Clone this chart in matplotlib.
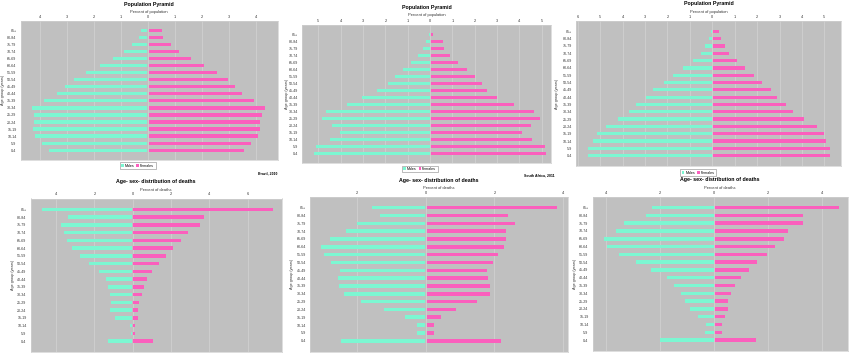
import matplotlib
matplotlib.use("Agg")
import matplotlib.pyplot as plt
from matplotlib.patches import Patch
import numpy as np

plt.rcParams['font.family'] = ['Liberation Sans', 'DejaVu Sans']

age_groups = ["0-4", "5-9", "10-14", "15-19", "20-24", "25-29", "30-34", "35-39",
              "40-44", "45-49", "50-54", "55-59", "60-64", "65-69", "70-74",
              "75-79", "80-84", "85+"]

# Population pyramids (percent of population), listed from 85+ down to 0-4
pop1_male = [0.25, 0.32, 0.58, 0.87, 1.28, 1.76, 2.28, 2.73, 3.05, 3.35, 3.83, 4.29, 4.23, 4.23, 4.24, 4.19, 3.90, 3.67]
pop1_female = [0.47, 0.52, 0.82, 1.12, 1.56, 2.03, 2.52, 2.94, 3.20, 3.44, 3.90, 4.31, 4.19, 4.13, 4.12, 4.03, 3.77, 3.52]
pop2_male = [0.05, 0.16, 0.30, 0.52, 0.85, 1.18, 1.57, 1.87, 2.37, 3.01, 3.72, 4.64, 4.82, 4.37, 3.99, 4.48, 5.07, 5.16]
pop2_female = [0.09, 0.52, 0.58, 0.85, 1.21, 1.60, 1.96, 2.28, 2.52, 2.94, 3.72, 4.63, 4.88, 4.46, 4.07, 4.52, 5.09, 5.16]
pop3_male = [0.03, 0.15, 0.30, 0.50, 0.86, 1.29, 1.74, 2.14, 2.64, 2.94, 3.39, 3.71, 4.19, 4.73, 5.13, 5.32, 5.51, 5.51]
pop3_female = [0.24, 0.33, 0.52, 0.70, 1.04, 1.43, 1.83, 2.18, 2.59, 2.84, 3.25, 3.55, 4.07, 4.62, 4.92, 5.02, 5.20, 5.20]

# Age-sex distribution of deaths (percent of deaths), from 85+ down to 0-4
dth1_male = [4.70, 3.36, 3.74, 3.57, 3.41, 3.17, 2.75, 2.28, 1.74, 1.39, 1.25, 1.15, 1.11, 1.18, 0.90, 0.10, 0.05, 1.27]
dth1_female = [7.27, 3.70, 3.48, 2.82, 2.47, 2.07, 1.70, 1.32, 0.94, 0.68, 0.57, 0.42, 0.28, 0.23, 0.21, 0.10, 0.09, 1.00]
dth2_male = [1.55, 1.31, 1.96, 2.29, 2.76, 3.02, 2.92, 2.74, 2.48, 2.54, 2.51, 2.35, 1.86, 1.20, 0.58, 0.23, 0.23, 2.43]
dth2_female = [3.77, 2.35, 2.56, 2.29, 2.29, 2.24, 2.05, 1.92, 1.75, 1.77, 1.83, 1.83, 1.45, 0.83, 0.41, 0.19, 0.19, 2.15]
dth3_male = [2.30, 2.50, 3.33, 3.62, 4.05, 3.95, 3.50, 2.88, 2.33, 1.74, 1.46, 1.20, 1.06, 0.88, 0.57, 0.30, 0.31, 1.98]
dth3_female = [4.56, 3.23, 3.26, 2.70, 2.54, 2.22, 1.91, 1.56, 1.25, 0.94, 0.74, 0.58, 0.47, 0.47, 0.35, 0.25, 0.26, 1.52]

MALE = '#7cf7d2'
FEMALE = '#fb5fbd'
BG = '#c0c0c0'

W, H = 850, 353
fig = plt.figure(figsize=(W / 100, H / 100), dpi=100)
fig.patch.set_facecolor('white')


def rect(x0, y0, x1, y1):
    return [x0 / W, 1 - y1 / H, (x1 - x0) / W, (y1 - y0) / H]


def panel(box, male, female, xlim, ticks, title, subtitle, title_y, sub_y,
          ylabel_x, legend_xy=None, note=None):
    ax = fig.add_axes(rect(*box))
    ax.set_facecolor(BG)
    n = len(male)
    ypos = np.arange(n)[::-1]  # first entry (85+) at top
    ax.barh(ypos, [-v for v in male], height=0.45, color=MALE, left=-0.02, zorder=3)
    ax.barh(ypos, female, height=0.45, color=FEMALE, left=0.04, zorder=3)
    ax.set_xlim(*xlim)
    ax.set_ylim(-1.4, n - 1 + 1.4)
    ax.set_xticks(ticks)
    ax.set_xticklabels([str(abs(t)) for t in ticks], fontsize=2.8, color='#333333')
    ax.xaxis.tick_top()
    ax.tick_params(axis='x', length=0, pad=1.5)
    ax.set_yticks(np.arange(n))
    ax.set_yticklabels(age_groups, fontsize=2.6, color='#333333')
    ax.tick_params(axis='y', length=0, pad=3)
    ax.grid(axis='x', color='#d4d4d4', linewidth=0.5, zorder=1)
    for s in ax.spines.values():
        s.set_color('#d0d0d0')
        s.set_linewidth(0.5)
    cx = (box[0] + box[2]) / 2
    fig.text(cx / W, 1 - title_y / H, title, ha='center', va='center',
             fontsize=3.8, fontweight='bold')
    fig.text(cx / W, 1 - sub_y / H, subtitle, ha='center', va='center',
             fontsize=2.9, color='#333333')
    fig.text(ylabel_x / W, 1 - ((box[1] + box[3]) / 2) / H, 'Age group (years)',
             rotation=90, ha='center', va='center', fontsize=2.7, color='#333333')
    if legend_xy is not None:
        handles = [Patch(facecolor=MALE, label='Males'),
                   Patch(facecolor=FEMALE, label='Females')]
        fig.legend(handles=handles, loc='center',
                   bbox_to_anchor=(legend_xy[0] / W, 1 - legend_xy[1] / H),
                   ncol=2, fontsize=2.6, frameon=True, fancybox=False,
                   edgecolor='#888888', handlelength=0.7, handleheight=0.7,
                   handletextpad=0.3, columnspacing=0.5, borderpad=0.4,
                   framealpha=1).get_frame().set_linewidth(0.4)
    if note is not None:
        fig.text(note[1] / W, 1 - note[2] / H, note[0], ha='right', va='center',
                 fontsize=2.5, fontweight='bold')
    return ax


panel((20.7, 20.7, 277.7, 160), pop1_male, pop1_female, (-4.73, 4.82),
      [-4, -3, -2, -1, 0, 1, 2, 3, 4], 'Population Pyramid', 'Percent of population',
      4.5, 11.5, 2.7, legend_xy=(137.7, 165.7), note=('Brazil, 2010', 277, 173))
panel((302.3, 25, 550.7, 163.3), pop2_male, pop2_female, (-5.72, 5.4),
      [-5, -4, -3, -2, -1, 0, 1, 2, 3, 4, 5], 'Population Pyramid', 'Percent of population',
      7, 15, 287, legend_xy=(419.8, 169), note=('South Africa, 2011', 555, 175))
panel((576, 21, 841, 166), pop3_male, pop3_female, (-6.08, 5.74),
      [-6, -5, -4, -3, -2, -1, 0, 1, 2, 3, 4, 5], 'Population Pyramid', 'Percent of population',
      3.5, 12, 557, legend_xy=(698.3, 172.7))
panel((30.7, 198.5, 281.7, 352), dth1_male, dth1_female, (-5.32, 7.77),
      [-4, -2, 0, 2, 4, 6], 'Age- sex- distribution of deaths', 'Percent of deaths',
      181.7, 190, 13)
panel((310, 196.7, 567.7, 351.7), dth2_male, dth2_female, (-3.36, 4.13),
      [-2, 0, 2, 4], 'Age- sex- distribution of deaths', 'Percent of deaths',
      180.7, 187.7, 292)
panel((592.7, 196.7, 847.7, 351), dth3_male, dth3_female, (-4.5, 4.94),
      [-4, -2, 0, 2, 4], 'Age- sex- distribution of deaths', 'Percent of deaths',
      180, 187.7, 575)

fig.savefig('out.png', dpi=100, facecolor='white')
